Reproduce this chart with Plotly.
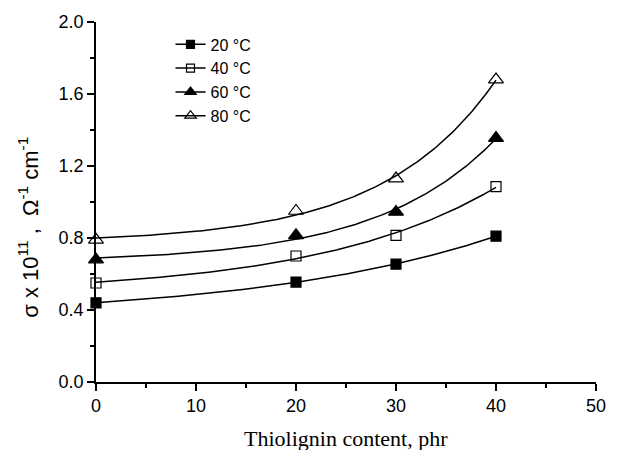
import numpy as np
import plotly.graph_objects as go

x_phr = [0, 20, 30, 40]
s20 = [0.44, 0.555, 0.655, 0.81]
s40 = [0.55, 0.70, 0.815, 1.085]
s60 = [0.68, 0.815, 0.945, 1.355]
s80 = [0.79, 0.95, 1.13, 1.68]
names = ["20 °C", "40 °C", "60 °C", "80 °C"]
symbols = ["square", "square-open", "triangle-up", "triangle-up-open"]
series = [s20, s40, s60, s80]


def exp_fit(xs, ys):
    """Least-squares fit y = a + b*exp(k*x) (trend curve through the data)."""
    xs = np.asarray(xs, float)
    ys = np.asarray(ys, float)
    best = None
    for k in np.linspace(0.002, 0.25, 1000):
        A = np.column_stack([np.ones_like(xs), np.exp(k * xs)])
        coef, *_ = np.linalg.lstsq(A, ys, rcond=None)
        r = np.sum((A @ coef - ys) ** 2)
        if best is None or r < best[0]:
            best = (r, k, coef)
    _, k, (a, b) = best
    return lambda x: a + b * np.exp(k * x)


fig = go.Figure()
xf = np.linspace(0, 40, 200)
for ys, nm, sym in zip(series, names, symbols):
    f = exp_fit(x_phr, ys)
    fig.add_trace(go.Scatter(x=xf, y=f(xf), mode="lines",
                             line=dict(color="black", width=1.5),
                             showlegend=False, hoverinfo="skip"))
    fig.add_trace(go.Scatter(x=x_phr, y=ys, mode="markers",
                             marker=dict(symbol=sym, size=10 if "square" in sym else 13,
                                         color="black", line=dict(color="black", width=1.2)),
                             showlegend=False, cliponaxis=False))
    fig.add_trace(go.Scatter(x=[None], y=[None], mode="lines+markers", name=nm,
                             line=dict(color="black", width=1.5),
                             marker=dict(symbol=sym, size=8 if "square" in sym else 10,
                                         color="black", line=dict(color="black", width=1.2))))

fig.update_layout(
    width=618, height=450,
    margin=dict(l=96, r=12, t=22, b=68),
    paper_bgcolor="white", plot_bgcolor="white",
    font=dict(family="Liberation Sans, Arial", size=18, color="black"),
    legend=dict(x=0.149, y=0.985, xanchor="left", yanchor="top",
                font=dict(size=16), bgcolor="rgba(0,0,0,0)",
                tracegroupgap=0, itemwidth=30),
    xaxis=dict(range=[0, 50], showline=True, linecolor="black", linewidth=1.5,
               ticks="outside", ticklen=7, tickwidth=1.5, tickcolor="black",
               dtick=10, tick0=0, showgrid=False, zeroline=False,
               minor=dict(ticks="outside", ticklen=4, dtick=5, tickcolor="black", showgrid=False)),
    yaxis=dict(range=[0, 2.0], showline=True, linecolor="black", linewidth=1.5,
               ticks="outside", ticklen=7, tickwidth=1.5, tickcolor="black",
               dtick=0.4, tick0=0, tickformat=".1f", showgrid=False, zeroline=False,
               minor=dict(ticks="outside", ticklen=4, dtick=0.2, tickcolor="black", showgrid=False)),
    annotations=[
        dict(text="Thiolignin content, phr", xref="paper", yref="paper",
             x=0.5, y=-0.156, xanchor="center", yanchor="middle", showarrow=False,
             font=dict(family="Liberation Serif, Times New Roman", size=22)),
        dict(text="σ x 10<sup>11</sup> ,  Ω<sup>-1</sup> cm<sup>-1</sup>",
             xref="paper", yref="paper", x=-0.135, y=0.43, textangle=-90,
             xanchor="center", yanchor="middle", showarrow=False,
             font=dict(size=22)),
    ],
)
fig.write_html("out.html")
